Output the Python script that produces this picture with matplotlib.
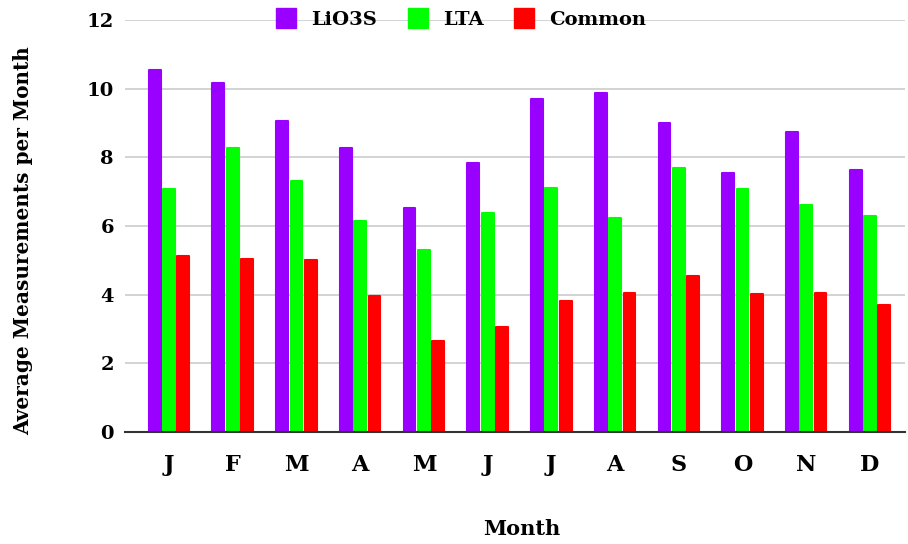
import numpy as np
import matplotlib.pyplot as plt
from matplotlib.lines import Line2D

months = ["J", "F", "M", "A", "M", "J", "J", "A", "S", "O", "N", "D"]
lio3s = [10.53, 10.16, 9.07, 8.27, 6.51, 7.83, 9.69, 9.87, 9.01, 7.55, 8.73, 7.63]
lta = [7.08, 8.27, 7.32, 6.14, 5.29, 6.38, 7.12, 6.24, 7.70, 7.07, 6.60, 6.28]
common = [5.14, 5.05, 5.00, 3.96, 2.64, 3.07, 3.83, 4.06, 4.54, 4.01, 4.06, 3.69]

series = ["LiO3S", "LTA", "Common"]
colors = ["#9900ff", "#00ff00", "#ff0000"]

plt.rcParams['font.family'] = ['DejaVu Serif']
plt.rcParams['font.weight'] = 'bold'

fig = plt.figure(figsize=(9.08, 5.44), dpi=100)
ax = fig.add_axes([0.1377, 0.2059, 0.859, 0.7573])

x = np.arange(len(months))
w = 0.185
for i, (vals, c) in enumerate(zip([lio3s, lta, common], colors)):
    ax.bar(x + (i - 1) * 0.225, vals, w, color=c, edgecolor=c, linewidth=1.5,
           joinstyle='round', zorder=3)

ax.set_ylim(0, 12)
ax.set_xlim(-0.69, 11.55)
ax.set_yticks(range(0, 13, 2))
ax.set_xticks(x)
ax.set_xticklabels(months)
ax.tick_params(axis='y', length=0, pad=8, labelsize=14)
ax.tick_params(axis='x', length=0, pad=16, labelsize=16)
ax.grid(axis='y', color='#cccccc', linewidth=1.2, zorder=0)
for s in ['top', 'right', 'left']:
    ax.spines[s].set_visible(False)
ax.spines['bottom'].set_color('#333333')
ax.spines['bottom'].set_linewidth(1.5)
ax.spines['bottom'].set_zorder(4)

ax.set_ylabel("Average Measurements per Month", fontsize=14.4, fontweight='bold')
ax.yaxis.set_label_coords(-0.118, 0.464)
ax.set_xlabel("Month", fontsize=15, fontweight='bold')
ax.xaxis.set_label_coords(0.509, -0.21)

handles = [Line2D([], [], marker='s', linestyle='none', markersize=14,
                  markerfacecolor=c, markeredgecolor=c) for c in colors]
fig.legend(handles, series, loc='center', bbox_to_anchor=(0.508, 0.963), ncol=3,
           frameon=False, fontsize=14, handletextpad=0.8, columnspacing=1.6,
           handlelength=1.0)

fig.savefig("out.png", dpi=100)
